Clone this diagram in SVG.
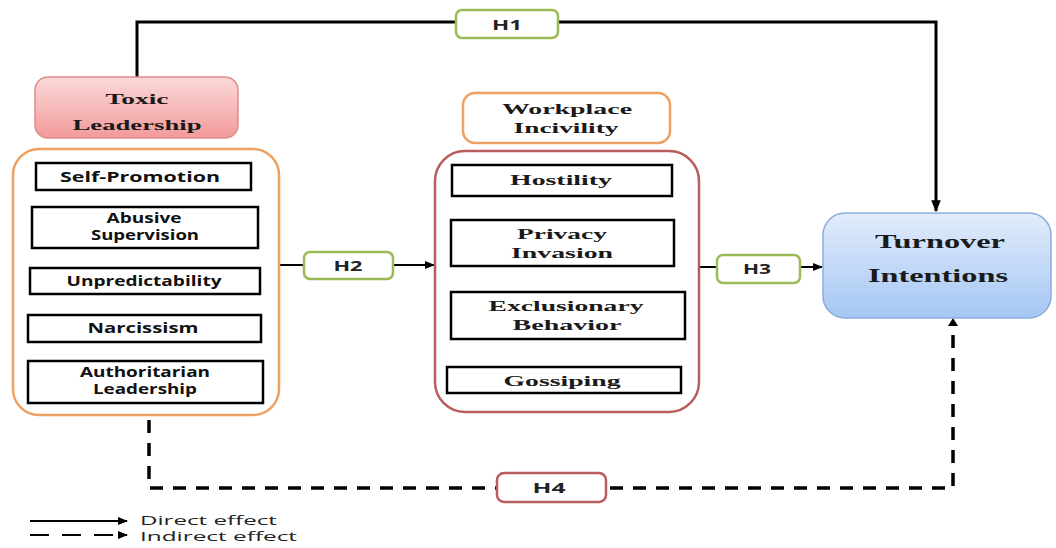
<svg xmlns="http://www.w3.org/2000/svg" width="1056" height="548" viewBox="0 0 1056 548">
<style>
.serif{font-family:"Liberation Serif","Times New Roman",serif;font-weight:bold;fill:#1a1a1a;text-anchor:middle;font-size:15px}
.big{font-size:19px}
.sans{font-family:"Open Sans","Liberation Sans",Arial,sans-serif;font-weight:bold;fill:#111;text-anchor:middle;font-size:14px}
.item{fill:#fff;stroke:#000;stroke-width:2.5}
.hbox{fill:#fff;stroke:#9bbb59;stroke-width:2.5}
.h{font-family:"Open Sans","Liberation Sans",Arial,sans-serif;font-weight:bold;fill:#222;text-anchor:middle;font-size:14px}
.solid{fill:none;stroke:#000;stroke-width:3}
.thin{fill:none;stroke:#000;stroke-width:2}
.dash{fill:none;stroke:#000;stroke-width:3.5;stroke-dasharray:13 10}
.leg{font-family:"Open Sans","Liberation Sans",Arial,sans-serif;fill:#222;font-size:13.5px}
</style>
<defs>
<linearGradient id="pink" x1="0" y1="0" x2="0" y2="1">
<stop offset="0" stop-color="#fbd9d9"/><stop offset="1" stop-color="#f39a9a"/>
</linearGradient>
<linearGradient id="blue" x1="0" y1="0" x2="0" y2="1">
<stop offset="0" stop-color="#e2ecfb"/><stop offset="1" stop-color="#a5c6f4"/>
</linearGradient>
<marker id="arr" viewBox="0 0 10 10" refX="9" refY="5" markerWidth="4" markerHeight="4" orient="auto-start-reverse" markerUnits="strokeWidth">
<path d="M0,1 L10,5 L0,9 z" fill="#000"/>
</marker>
<marker id="arrs" viewBox="0 0 10 10" refX="9" refY="5" markerWidth="5" markerHeight="5" orient="auto-start-reverse" markerUnits="strokeWidth">
<path d="M0,1 L10,5 L0,9 z" fill="#000"/>
</marker>
</defs>

<g id="connectors">
<path class="solid" d="M137,77 V22 H936 V211" marker-end="url(#arr)"/>
<path class="thin" d="M279,265 H304"/>
<path class="thin" d="M393,265 H434" marker-end="url(#arrs)"/>
<path class="thin" d="M699,267 H717"/>
<path class="thin" d="M800,267 H822" marker-end="url(#arrs)"/>
<path class="dash" d="M149,420 V488 H953 V322"/>
<path d="M953,318 L948,326 L958,326 z" fill="#000"/>
</g>

<g id="h1"><rect class="hbox" x="456" y="10" width="102" height="28" rx="6"/><text class="h" x="507" y="30" textLength="30" lengthAdjust="spacingAndGlyphs">H1</text></g>
<g id="h2"><rect class="hbox" x="304" y="252" width="89" height="27" rx="6"/><text class="h" x="348" y="271" textLength="29" lengthAdjust="spacingAndGlyphs">H2</text></g>
<g id="h3"><rect class="hbox" x="717" y="255" width="83" height="28" rx="6"/><text class="h" x="757" y="274" textLength="28" lengthAdjust="spacingAndGlyphs">H3</text></g>
<g id="h4"><rect x="497" y="473" width="109" height="29" rx="7" fill="#fff" stroke="#b85c5c" stroke-width="2.5"/><text class="h" x="549" y="493" textLength="33" lengthAdjust="spacingAndGlyphs">H4</text></g>

<g id="toxic-leadership">
<rect x="35" y="77" width="203" height="61" rx="13" fill="url(#pink)" stroke="#e48a8a" stroke-width="1.5"/>
<text class="serif" x="137" y="104" textLength="63" lengthAdjust="spacingAndGlyphs">Toxic</text>
<text class="serif" x="137" y="130" textLength="129" lengthAdjust="spacingAndGlyphs">Leadership</text>
</g>

<g id="toxic-dimensions">
<rect x="13" y="149" width="266" height="266" rx="26" fill="#fff" stroke="#eea060" stroke-width="2.5"/>
<rect class="item" x="36" y="163" width="215" height="27"/><text class="sans" x="140" y="182" textLength="160" lengthAdjust="spacingAndGlyphs">Self-Promotion</text>
<rect class="item" x="32" y="207" width="226" height="41"/><text class="sans" x="144" y="223" textLength="75" lengthAdjust="spacingAndGlyphs">Abusive</text><text class="sans" x="145" y="240" textLength="108" lengthAdjust="spacingAndGlyphs">Supervision</text>
<rect class="item" x="30" y="268" width="230" height="26"/><text class="sans" x="144" y="286" textLength="155" lengthAdjust="spacingAndGlyphs">Unpredictability</text>
<rect class="item" x="28" y="315" width="233" height="27"/><text class="sans" x="143" y="333" textLength="111" lengthAdjust="spacingAndGlyphs">Narcissism</text>
<rect class="item" x="28" y="361" width="235" height="42"/><text class="sans" x="145" y="377" textLength="130" lengthAdjust="spacingAndGlyphs">Authoritarian</text><text class="sans" x="145" y="394" textLength="104" lengthAdjust="spacingAndGlyphs">Leadership</text>
</g>

<g id="workplace-incivility">
<rect x="463" y="93" width="207" height="50" rx="12" fill="#fff" stroke="#eea060" stroke-width="2.5"/>
<text class="serif" x="567" y="114" textLength="130" lengthAdjust="spacingAndGlyphs">Workplace</text>
<text class="serif" x="566" y="133" textLength="105" lengthAdjust="spacingAndGlyphs">Incivility</text>
</g>

<g id="incivility-dimensions">
<rect x="435" y="151" width="264" height="261" rx="30" fill="#fff" stroke="#b85c5c" stroke-width="2.5"/>
<rect class="item" x="452" y="165" width="220" height="31"/><text class="serif" x="561" y="185" textLength="102" lengthAdjust="spacingAndGlyphs">Hostility</text>
<rect class="item" x="451" y="220" width="223" height="46"/><text class="serif" x="562" y="239" textLength="90" lengthAdjust="spacingAndGlyphs">Privacy</text><text class="serif" x="562" y="258" textLength="102" lengthAdjust="spacingAndGlyphs">Invasion</text>
<rect class="item" x="451" y="292" width="234" height="47"/><text class="serif" x="566" y="311" textLength="155" lengthAdjust="spacingAndGlyphs">Exclusionary</text><text class="serif" x="567" y="330" textLength="109" lengthAdjust="spacingAndGlyphs">Behavior</text>
<rect class="item" x="447" y="367" width="234" height="26"/><text class="serif" x="562" y="386" textLength="117" lengthAdjust="spacingAndGlyphs">Gossiping</text>
</g>

<g id="turnover-intentions">
<rect x="823" y="213" width="228" height="105" rx="22" fill="url(#blue)" stroke="#8aacdc" stroke-width="1.5"/>
<text class="serif big" x="940" y="248" textLength="130" lengthAdjust="spacingAndGlyphs">Turnover</text>
<text class="serif big" x="938" y="282" textLength="140" lengthAdjust="spacingAndGlyphs">Intentions</text>
</g>

<g id="legend">
<path class="thin" d="M30,521 H127" marker-end="url(#arrs)"/>
<text class="leg" x="140" y="525" textLength="137" lengthAdjust="spacingAndGlyphs">Direct effect</text>
<path d="M30,535 H127" fill="none" stroke="#000" stroke-width="2" stroke-dasharray="19 13" marker-end="url(#arrs)"/>
<text class="leg" x="140" y="541" textLength="157" lengthAdjust="spacingAndGlyphs">Indirect effect</text>
</g>
</svg>
